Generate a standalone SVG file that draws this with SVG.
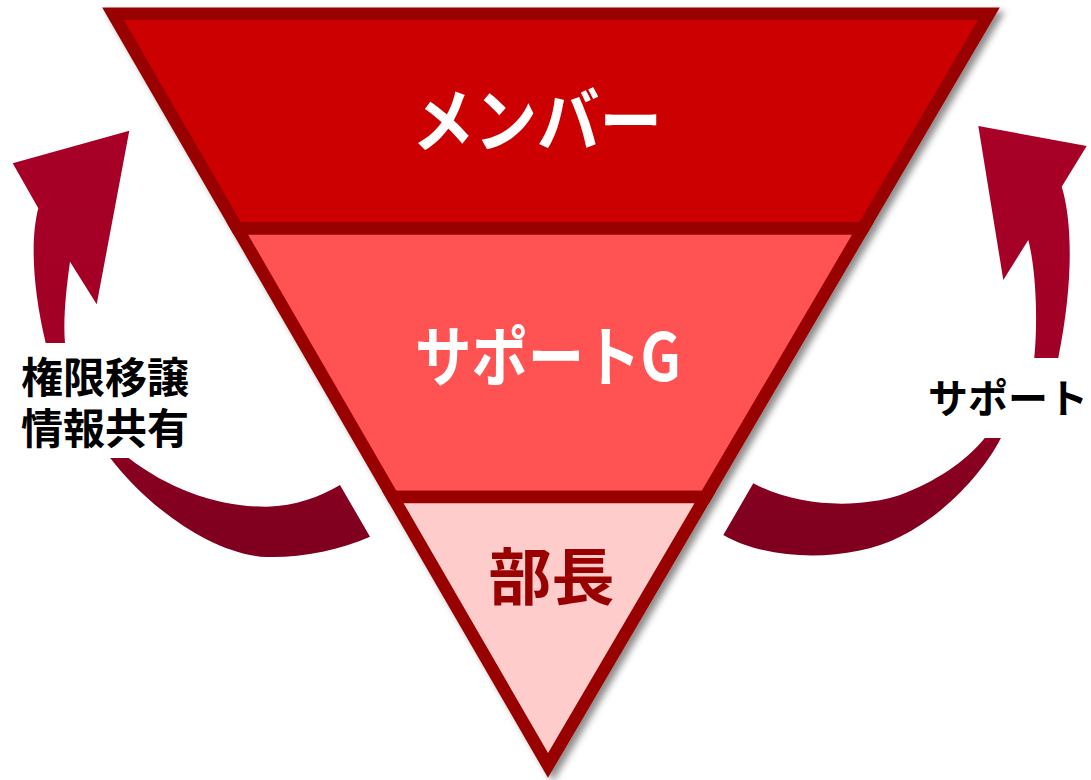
<svg xmlns="http://www.w3.org/2000/svg" width="1091" height="780" viewBox="0 0 1091 780">
  <defs>
    <style>
      .band { stroke: #990000; stroke-width: 12.5; stroke-linejoin: miter; stroke-miterlimit: 10; }
      .t { font-family: "Noto Sans CJK JP", "Noto Sans", sans-serif; font-weight: bold; text-anchor: middle; }
      .lbl { fill: #000000; font-size: 42px; }
    </style>
    <filter id="shadow" x="-10%" y="-10%" width="125%" height="125%">
      <feDropShadow dx="5" dy="4" stdDeviation="3.5" flood-color="#000000" flood-opacity="0.45"/>
    </filter>
    <linearGradient id="arrowGrad" gradientUnits="userSpaceOnUse" x1="0" y1="125" x2="0" y2="560">
      <stop offset="0" stop-color="#A80027"/>
      <stop offset="0.5" stop-color="#A20026"/>
      <stop offset="0.75" stop-color="#8A0021"/>
      <stop offset="1" stop-color="#7E001E"/>
    </linearGradient>
  </defs>
  <rect width="1091" height="780" fill="#ffffff"/>

  <g id="connectors">
    <path id="arrow-left" fill="url(#arrowGrad)" d="M129.3,130.7 L96.7,304.3 L70,261.7 C66,290 63,320 65,343 C68,390 95,430 128.3,457.7 C170,490 220,507 267,506.7 C295,506 320,497 340,485 L370,536.7 C340,550 300,558 267,557 C215,555 150,510 110,457.7 C80,420 55,385 45.7,343 C33,290 30,240 38.3,208.3 L12.7,163.3 Z"/>
    <path id="arrow-right" fill="url(#arrowGrad)" d="M978.3,126 L1086.7,146 L1061.7,186.7 C1072,220 1074,280 1058.3,357.7 C1052,390 1018,415 1001,437.7 C985,470 945,515 900,536.7 C850,562 770,562 723.3,535 L753.3,483.3 C800,508 860,508 900,495 C935,482 965,462 985,437.7 C1005,413 1030,390 1034.3,357.7 C1038,320 1036,270 1028.3,240 L1003.3,280 Z"/>
  </g>

  <g id="funnel" filter="url(#shadow)">
    <g id="band-member">
      <polygon class="band" fill="#CC0000" points="113,13.65 988.9,13.65 862.9,228.5 237.3,228.5"/>
    </g>
    <g id="band-support">
      <polygon class="band" fill="#FF5252" points="237.3,228.5 862.9,228.5 705.4,497 392.7,497"/>
    </g>
    <g id="band-bucho">
      <polygon class="band" fill="#FFCCCC" points="392.7,497 705.4,497 548,765.4"/>
    </g>
  </g>

  <g id="text-member">
    <text class="t" x="537" y="147" font-size="70" fill="#ffffff" textLength="250" lengthAdjust="spacingAndGlyphs">メンバー</text>
  </g>
  <g id="text-support">
    <text class="t" x="548" y="381" font-size="66" fill="#ffffff" textLength="266" lengthAdjust="spacingAndGlyphs">サポートG</text>
  </g>
  <g id="text-bucho">
    <text class="t" x="551.5" y="600" font-size="62" fill="#990000" textLength="126" lengthAdjust="spacingAndGlyphs">部長</text>
  </g>

  <g id="label-left">
    <rect x="8" y="343" width="194" height="115" fill="#ffffff"/>
    <text class="t lbl"><tspan x="105" y="393">権限移譲</tspan><tspan x="105" y="444">情報共有</tspan></text>
  </g>
  <g id="label-right">
    <rect x="920" y="358" width="171" height="80" fill="#ffffff"/>
    <text class="t" x="1008" y="412.5" font-size="40" fill="#000000">サポート</text>
  </g>
</svg>
